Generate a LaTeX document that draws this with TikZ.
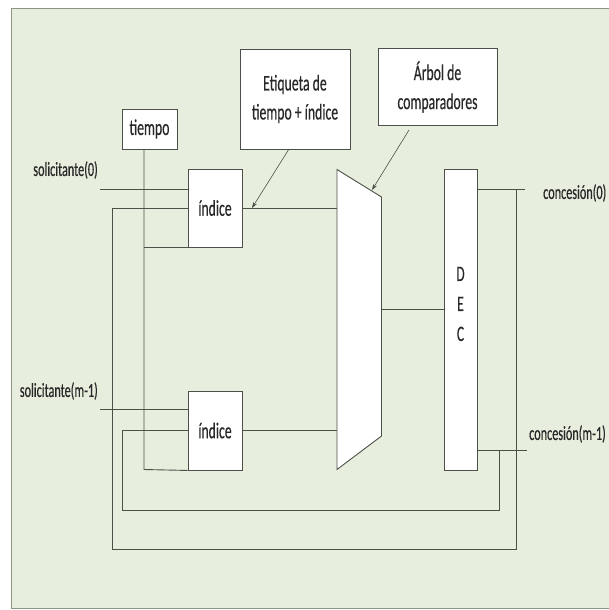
\documentclass[tikz,border=0pt]{standalone}
\usepackage{fontspec}
\setmainfont{Carlito}[FakeStretch=0.61, FakeBold=0.4]
\usetikzlibrary{arrows.meta}
\definecolor{panel}{RGB}{232,238,222}
\definecolor{panelrule}{RGB}{140,150,130}
\definecolor{wire}{RGB}{75,80,72}
\definecolor{ink}{RGB}{40,40,40}
\tikzset{
  blk/.style={draw=wire, fill=white, line width=0.9pt, inner sep=0pt, text=ink, font=\fontsize{22.5}{29}\selectfont, align=center},
  lbl/.style={inner sep=0pt, text=ink, font=\fontsize{20}{24}\selectfont},
  wr/.style={draw=wire, line width=0.9pt},
  callout/.style={draw=wire, line width=0.6pt, -{Stealth[length=6pt,width=4pt]}}
}
\begin{document}
\begin{tikzpicture}[x=1pt,y=-1pt]
  \useasboundingbox (0,0) rectangle (608,610);
  % background panel
  \fill[white] (0,0) rectangle (608,610);
  \filldraw[fill=panel, draw=panelrule, line width=1pt] (11,8.5) rectangle (612,608);

  % blocks
  \node[blk, minimum width=55pt, minimum height=40pt] (tiempo) at (149.5,129) {tiempo};
  \node[blk, minimum width=110pt, minimum height=100pt] (etiq) at (295,99) {Etiqueta de\\tiempo + índice};
  \node[blk, minimum width=119pt, minimum height=77pt] (arbol) at (437.5,87) {Árbol de\\comparadores};
  \node[blk, minimum width=54pt, minimum height=78pt] (idx0) at (215,208) {índice};
  \node[blk, minimum width=54pt, minimum height=79pt] (idx1) at (215,430.5) {índice};
  \node[blk, minimum width=33pt, minimum height=301pt] (dec) at (460.5,319.5) {};
  \node[inner sep=0pt, text=ink, align=center, font=\fontsize{22}{30}\selectfont] (decTxt) at (460.5,304) {D\\E\\C};

  % comparator tree (trapezoid)
  \coordinate (tTL) at (337,169.5);
  \coordinate (tTR) at (381.5,197);
  \coordinate (tBR) at (381.5,436);
  \coordinate (tBL) at (337,469.5);
  \filldraw[fill=white, draw=wire, line width=0.9pt] (tTL) -- (tTR) -- (tBR) -- (tBL) -- cycle;
  \coordinate (tIn0) at (337,208);
  \coordinate (tIn1) at (337,430);
  \coordinate (tOut) at (381.5,309);
  \coordinate (tTip) at (372,190);

  % request inputs
  \coordinate (s0) at (100,189);
  \coordinate (s1) at (100,409);
  \draw[wr] (s0) -- (s0 -| idx0.west);
  \draw[wr] (s1) -- (s1 -| idx1.west);

  % index to comparator tree
  \draw[wr] (idx0.east |- tIn0) -- (tIn0);
  \draw[wr] (idx1.east |- tIn1) -- (tIn1);
  \draw[wr] (tOut) -- (tOut -| dec.west);

  % time bus
  \coordinate (tb) at (144,149);
  \coordinate (tbEnd) at (144,469.5);
  \draw[wr] (tb) -- (tbEnd) -- (idx1.south west);
  \draw[wr] (tb |- idx0.south) -- (idx0.south west);

  % grant outputs
  \coordinate (g0) at (525,189);
  \coordinate (g1) at (527,450);
  \draw[wr] (g0 -| dec.east) -- (g0);
  \draw[wr] (g1 -| dec.east) -- (g1);

  % feedback loops
  \coordinate (f0) at (516,189);
  \coordinate (f1) at (499,450);
  \draw[wr] (f0) -- (516,549.5) -- (112,549.5) -- (112,208) -- (idx0.west |- tIn0);
  \draw[wr] (f1) -- (499,510) -- (122,510) -- (122,430) -- (idx1.west |- tIn1);

  % callouts
  \coordinate (eTip) at (252,208);
  \draw[callout] (289,149) -- (eTip);
  \draw[callout] (409,130) -- (tTip);

  % labels
  \node[lbl, anchor=east] (ls0) at (98,170) {solicitante(0)};
  \node[lbl, anchor=east] (ls1) at (98,391) {solicitante(m-1)};
  \node[lbl, anchor=west] (lg0) at (543,193) {concesión(0)};
  \node[lbl, anchor=west] (lg1) at (529,434) {concesión(m-1)};
\end{tikzpicture}
\end{document}
